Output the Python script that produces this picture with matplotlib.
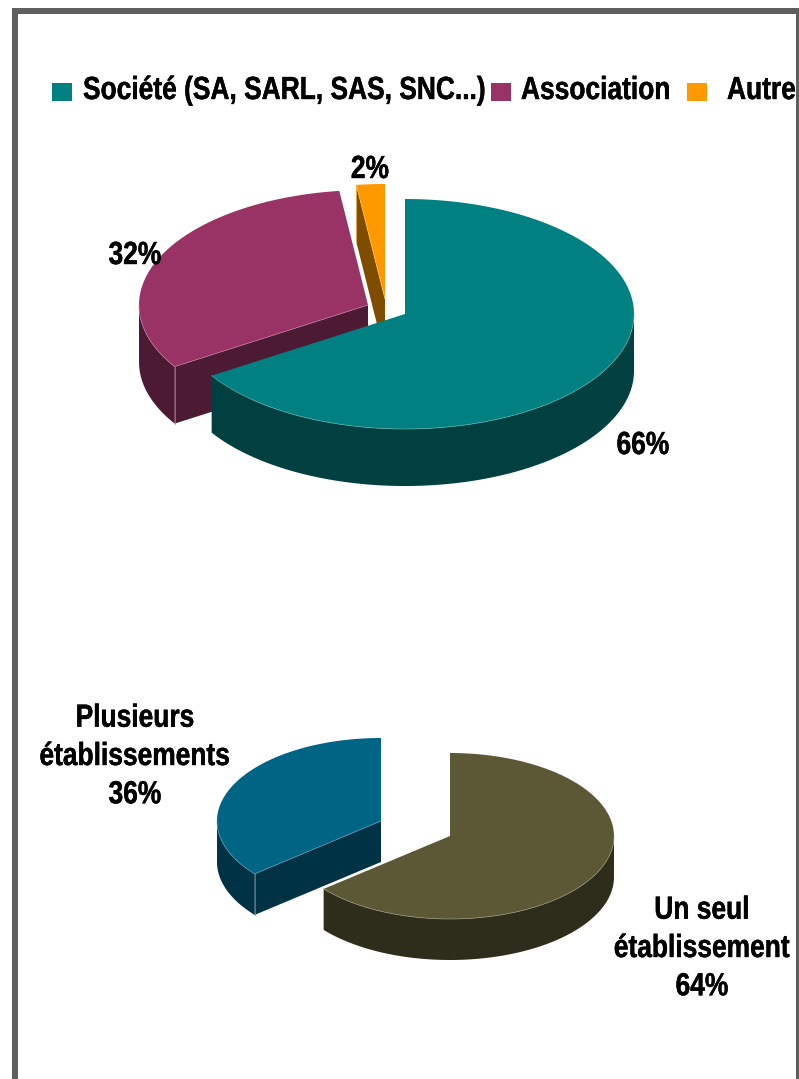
import numpy as np
import matplotlib
matplotlib.use("Agg")
import matplotlib.pyplot as plt
import matplotlib.patheffects as pe
from matplotlib import font_manager
from matplotlib.patches import Rectangle
from fontTools.ttLib import TTFont

W, H = 799, 1079

# Legal form of the organisations
legal_forms = ["Société (SA, SARL, SAS, SNC...)", "Association", "Autre"]
legal_shares = [66, 32, 2]
legal_top = ["#008080", "#993366", "#FF9900"]
legal_side = ["#004040", "#4D1A33", "#7F4D00"]

# Number of establishments
estab_names = ["Un seul\nétablissement", "Plusieurs\nétablissements"]
estab_shares = [64, 36]
estab_top = ["#5C5836", "#006485"]
estab_side = ["#2E2C1B", "#003246"]


def condensed_font(source, family, squeeze):
    """Write a horizontally condensed copy of a TrueType font and register it."""
    font = TTFont(source)
    glyf = font["glyf"]
    for name in glyf.keys():
        glyph = glyf[name]
        glyph.removeHinting()
        if glyph.isComposite():
            for comp in glyph.components:
                comp.x = round(comp.x * squeeze)
        elif glyph.numberOfContours > 0:
            glyph.coordinates.scale((squeeze, 1))
            glyph.coordinates.toInt()
        glyph.recalcBounds(glyf)
    hmtx = font["hmtx"]
    for name, (advance, lsb) in list(hmtx.metrics.items()):
        hmtx.metrics[name] = (round(advance * squeeze), round(lsb * squeeze))
    for tag in ("kern", "GPOS", "hdmx", "VDMX", "LTSH", "fpgm", "prep", "cvt "):
        if tag in font:
            del font[tag]
    for record in font["name"].names:
        if record.nameID in (1, 4, 6, 16):
            record.string = family
    path = "condensed_bold.ttf"
    font.save(path)
    font_manager.fontManager.addfont(path)


base = font_manager.findfont(font_manager.FontProperties(family="Liberation Sans", weight="bold"))
condensed_font(base, "Condensed Bold Sans", 0.825)
plt.rcParams["font.family"] = ["Condensed Bold Sans", "Liberation Sans", "DejaVu Sans"]
plt.rcParams["font.weight"] = "bold"

# The condensed strokes come out thin, so thicken them a little
heavy = [pe.withStroke(linewidth=0.3, foreground="black")]

fig = plt.figure(figsize=(W / 100, H / 100), dpi=100, facecolor="white")
ax = fig.add_axes([0, 0, 1, 1])
ax.set_xlim(0, W)
ax.set_ylim(H, 0)
ax.axis("off")


def rim(cx, cy, rx, ry, t0, t1, n=160):
    t = np.radians(np.linspace(t0, t1, n))
    return cx + rx * np.sin(t), cy - ry * np.cos(t)


def lighten(color, amount=0.35):
    rgb = np.array(matplotlib.colors.to_rgb(color))
    return tuple(rgb + (1 - rgb) * amount)


def slab(apex, rx, ry, depth, t0, t1, top, side, z):
    """One extruded pie slice; angles run clockwise from twelve o'clock."""
    cx, cy = apex
    edge = lighten(top)
    x, y = rim(cx, cy, rx, ry, t0, t1)

    # Cut face on the starting radius, when it looks towards the viewer
    if np.sin(np.radians(t0)) < -1e-6:
        fx, fy = rim(cx, cy, rx, ry, t0, t0, 1)
        ax.fill([cx, fx[0], fx[0], cx], [cy, fy[0], fy[0] + depth, cy + depth],
                color=side, lw=0, zorder=z)
        ax.plot([cx, fx[0]], [cy, fy[0]], color=edge, lw=0.5, zorder=z + 0.2)
        ax.plot([fx[0], fx[0]], [fy[0], fy[0] + depth], color=edge, lw=0.5, zorder=z + 0.2)

    # Outer wall, only over the front half of the rim
    lo, hi = max(t0, 90), min(t1, 270)
    if hi > lo:
        wx, wy = rim(cx, cy, rx, ry, lo, hi)
        ax.fill(np.r_[wx, wx[::-1]], np.r_[wy, wy[::-1] + depth], color=side, lw=0, zorder=z)
        ax.plot(wx, wy, color=edge, lw=0.5, zorder=z + 0.2)

    ax.fill(np.r_[cx, x], np.r_[cy, y], color=top, lw=0, zorder=z + 0.1)


def pie_angles(shares):
    bounds = np.r_[0, np.cumsum(shares)] / sum(shares) * 360
    return list(zip(bounds[:-1], bounds[1:]))


# Frame, open along the bottom
frame = "#5F5F5F"
ax.add_patch(Rectangle((12, 8), W - 12, 6, color=frame, lw=0))
ax.add_patch(Rectangle((12, 8), 6, H - 8, color=frame, lw=0))
ax.add_patch(Rectangle((796, 8), 3, H - 8, color=frame, lw=0))

# Legend row
for color, name, box_x, text_x in zip(legal_top, legal_forms, (52, 491, 687), (83, 521, 727)):
    ax.add_patch(Rectangle((box_x, 83), 20, 18, color=color, lw=0))
    ax.text(text_x, 99, name, fontsize=23, va="baseline", ha="left", color="black",
            path_effects=heavy)

# Upper pie: back slices first so the large slice overlaps them
angles = pie_angles(legal_shares)
legal_apex = [(405, 314), (368, 305), (385, 299)]
for i in (2, 1, 0):
    slab(legal_apex[i], 229, 115, 57, *angles[i], legal_top[i], legal_side[i], 3 + (2 - i))

for share, (lx, ly) in zip(legal_shares, [(643, 446), (135, 256), (370, 170)]):
    ax.text(lx, ly, f"{share}%", fontsize=23, ha="center", va="center", color="black",
            zorder=10, path_effects=heavy)

# Lower pie
angles = pie_angles(estab_shares)
estab_apex = [(450, 836), (381, 821)]
for i in (1, 0):
    slab(estab_apex[i], 164, 83, 41, *angles[i], estab_top[i], estab_side[i], 3 + (1 - i))

for name, share, lx, ly in zip(estab_names, estab_shares, (702, 135), (949, 757)):
    ax.text(lx, ly, f"{name}\n{share}%", fontsize=23, ha="center", va="center",
            linespacing=1.36, color="black", zorder=10, path_effects=heavy)

fig.savefig("out.png", dpi=100, facecolor="white")
